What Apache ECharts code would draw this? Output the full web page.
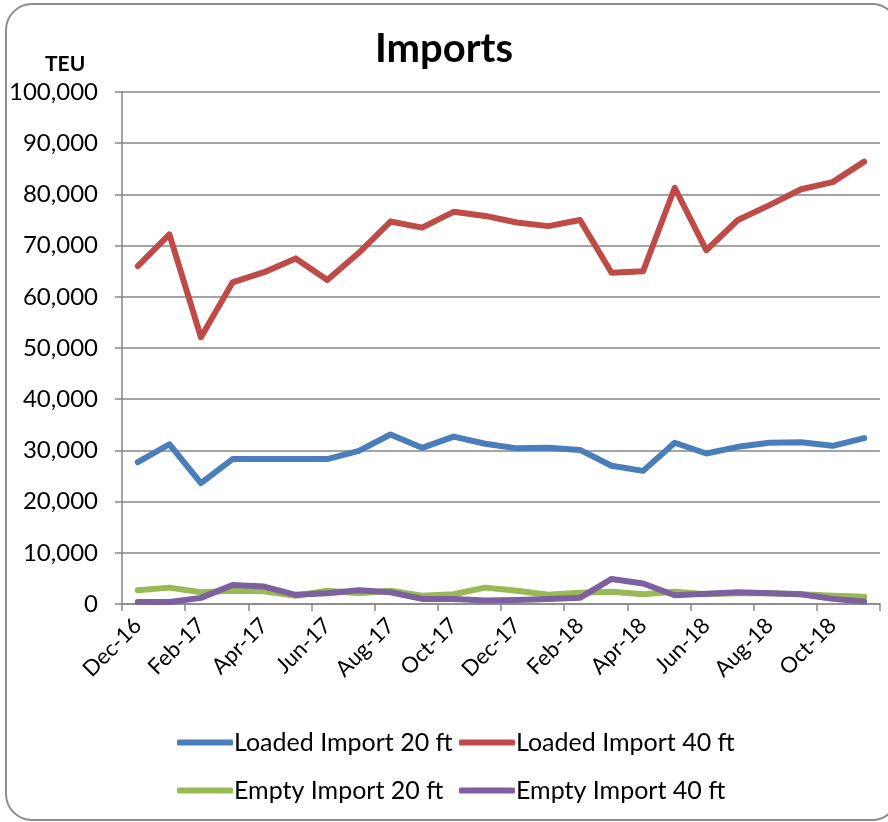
<!DOCTYPE html>
<html>
<head>
<meta charset="utf-8">
<script src="https://cdn.jsdelivr.net/npm/echarts@6/dist/echarts.min.js"></script>
<style>
  html, body { margin: 0; padding: 0; background: #fff; }
  #chart { width: 888px; height: 822px; }
</style>
</head>
<body>
<div id="chart"></div>
<script>
// months, Dec-16 .. Nov-18
var months = ['Dec-16', 'Jan-17', 'Feb-17', 'Mar-17', 'Apr-17', 'May-17', 'Jun-17', 'Jul-17',
  'Aug-17', 'Sep-17', 'Oct-17', 'Nov-17', 'Dec-17', 'Jan-18', 'Feb-18', 'Mar-18',
  'Apr-18', 'May-18', 'Jun-18', 'Jul-18', 'Aug-18', 'Sep-18', 'Oct-18', 'Nov-18'];

var loaded20 = [27700, 31200, 23600, 28300, 28300, 28300, 28300, 29900, 33100, 30500, 32700, 31300,
  30400, 30500, 30100, 27000, 26000, 31500, 29400, 30700, 31500, 31600, 30900, 32400];
var loaded40 = [66000, 72200, 52100, 62800, 64800, 67500, 63300, 68600, 74700, 73500, 76600, 75800,
  74500, 73800, 75000, 64700, 65000, 81300, 69100, 75000, 77900, 81000, 82400, 86400];
var empty20 = [2700, 3200, 2300, 2600, 2500, 1600, 2600, 2100, 2600, 1600, 1900, 3200,
  2600, 1800, 2200, 2400, 1900, 2400, 1900, 2100, 2100, 1900, 1600, 1400];
var empty40 = [400, 400, 1200, 3700, 3400, 1800, 2100, 2700, 2300, 1000, 1000, 700,
  800, 1000, 1200, 4900, 4000, 1700, 2000, 2300, 2100, 1900, 1000, 500];

var seriesNames = ['Loaded Import 20 ft', 'Loaded Import 40 ft', 'Empty Import 20 ft', 'Empty Import 40 ft'];
var colors = ['#4A7EBB', '#BE4B48', '#98B954', '#7D60A0'];

var font = 'Lato';
var chart = echarts.init(document.getElementById('chart'));

function mkSeries(name, data, color) {
  return {
    name: name,
    type: 'line',
    data: data,
    symbol: 'none',
    lineStyle: { width: 6, color: color, cap: 'round', join: 'round' },
    itemStyle: { color: color }
  };
}

// one legend per entry so the two columns line up like the original
function mkLegend(name, left, top) {
  return {
    data: [name],
    left: left,
    top: top,
    itemWidth: 56,
    itemHeight: 6,
    icon: 'roundRect',
    textStyle: { fontFamily: font, fontSize: 25, color: '#000', padding: [0, 0, 0, -4] }
  };
}

var option = {
  backgroundColor: '#fff',
  animation: false,
  color: colors,
  title: [
    { text: 'Imports', left: 'center', top: 24,
      textStyle: { fontFamily: font, fontSize: 40, fontWeight: 'bold', color: '#000' } },
    { text: 'TEU', left: 40, top: 49,
      textStyle: { fontFamily: font, fontSize: 21, fontWeight: 'bold', color: '#000' } }
  ],
  graphic: [{
    type: 'rect',
    shape: { x: 6, y: 4, width: 892, height: 816, r: 26 },
    style: { fill: 'none', stroke: '#8c8c8c', lineWidth: 2 },
    silent: true
  }],
  legend: [
    mkLegend(seriesNames[0], 172, 725),
    mkLegend(seriesNames[1], 454, 725),
    mkLegend(seriesNames[2], 172, 773),
    mkLegend(seriesNames[3], 454, 773)
  ],
  grid: { left: 122, right: 8, top: 92, bottom: 218 },
  xAxis: {
    type: 'category',
    data: months,
    boundaryGap: true,
    axisLine: { lineStyle: { color: '#868686', width: 1.5 } },
    axisTick: { show: true, interval: 1, length: 7, lineStyle: { color: '#868686', width: 1.5 } },
    axisLabel: { interval: 1, rotate: 45, margin: 18, fontFamily: font, fontSize: 22, color: '#000' }
  },
  yAxis: {
    type: 'value',
    min: 0,
    max: 100000,
    interval: 10000,
    axisLine: { show: true, lineStyle: { color: '#868686', width: 1.5 } },
    axisTick: { show: true, inside: false, length: 7, lineStyle: { color: '#868686', width: 1.5 } },
    splitLine: { lineStyle: { color: '#868686', width: 1.5 } },
    axisLabel: {
      margin: 24, fontFamily: font, fontSize: 24, color: '#000',
      formatter: function (v) { return v.toLocaleString('en-US'); }
    }
  },
  series: [
    mkSeries(seriesNames[0], loaded20, colors[0]),
    mkSeries(seriesNames[1], loaded40, colors[1]),
    mkSeries(seriesNames[2], empty20, colors[2]),
    mkSeries(seriesNames[3], empty40, colors[3])
  ]
};

chart.setOption(option);
</script>
</body>
</html>
